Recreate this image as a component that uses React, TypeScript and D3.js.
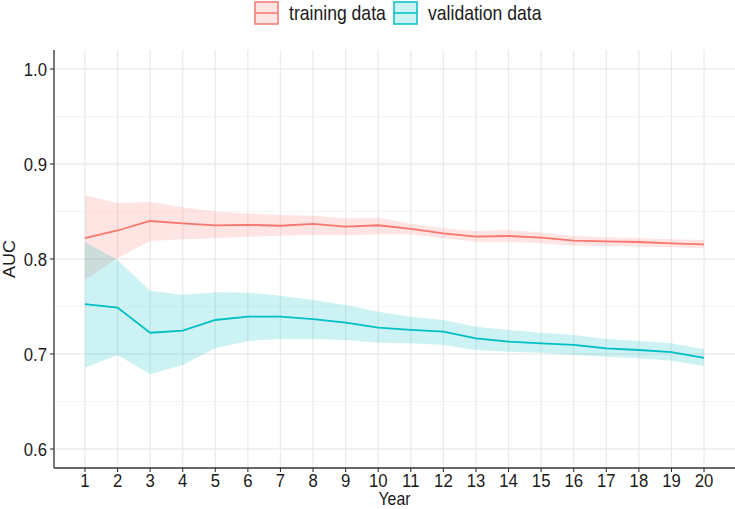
import React from 'react';
import * as d3 from 'd3';

// AUC by follow-up year
const years = [1, 2, 3, 4, 5, 6, 7, 8, 9, 10, 11, 12, 13, 14, 15, 16, 17, 18, 19, 20];

const trainAuc = [0.822, 0.830, 0.840, 0.8376, 0.8355, 0.836, 0.835, 0.837, 0.834, 0.8355, 0.8316, 0.827, 0.8235, 0.8242, 0.8224, 0.8193, 0.8186, 0.8179, 0.8165, 0.8155];
const trainUpper = [0.867, 0.859, 0.860, 0.8544, 0.850, 0.848, 0.8463, 0.8456, 0.843, 0.8435, 0.837, 0.8323, 0.8295, 0.8305, 0.828, 0.8242, 0.8228, 0.8218, 0.8207, 0.820];
const trainLower = [0.778, 0.801, 0.819, 0.8207, 0.8218, 0.8235, 0.8245, 0.8253, 0.825, 0.826, 0.826, 0.8218, 0.8182, 0.8182, 0.8165, 0.814, 0.8137, 0.813, 0.8123, 0.8112];

const valAuc = [0.7526, 0.7488, 0.7224, 0.7246, 0.7358, 0.7393, 0.7393, 0.7368, 0.733, 0.7277, 0.7253, 0.7235, 0.7165, 0.713, 0.7112, 0.7095, 0.706, 0.7042, 0.702, 0.696];
const valUpper = [0.818, 0.799, 0.7667, 0.762, 0.765, 0.7646, 0.7614, 0.7568, 0.7516, 0.7446, 0.7393, 0.7358, 0.7288, 0.7253, 0.7224, 0.720, 0.7158, 0.7137, 0.7112, 0.705];
const valLower = [0.6856, 0.699, 0.6786, 0.6884, 0.706, 0.7137, 0.7158, 0.7158, 0.7147, 0.7119, 0.7112, 0.7095, 0.7042, 0.7025, 0.7014, 0.699, 0.6972, 0.6954, 0.693, 0.6874];

const yTicks = [0.6, 0.7, 0.8, 0.9, 1.0];
const yMinor = [0.65, 0.75, 0.85, 0.95];

const seriesNames = ['training data', 'validation data'];
const seriesColors = ['#F8766D', '#00BFC4'];

const W = 735;
const H = 509;
const FONT = '"Liberation Sans", Arial, sans-serif';
const SX = 0.88; // the picture is squeezed horizontally, so are its glyphs

const Txt: React.FC<{ x: number; y: number; size: number; anchor?: string; rotate?: boolean; children: React.ReactNode }> = ({ x, y, size, anchor = 'start', rotate, children }) => (
  <text
    transform={`translate(${x},${y}) scale(${SX},1)${rotate ? ' rotate(-90)' : ''}`}
    fontSize={size}
    fontFamily={FONT}
    textAnchor={anchor}
    fill="#1a1a1a"
  >
    {children}
  </text>
);

export default function App() {
  const left = 54, right = 735, top = 50, bottom = 468;

  const x = d3.scaleLinear().domain([0.05, 20.95]).range([left, right]);
  const y = d3.scaleLinear().domain([0.58, 1.02]).range([bottom, top]);

  const series = [
    { mid: trainAuc, lo: trainLower, hi: trainUpper },
    { mid: valAuc, lo: valLower, hi: valUpper },
  ];

  const band = (lo: number[], hi: number[]) =>
    d3.area<number>()
      .x((_, i) => x(years[i]))
      .y0(d => y(d))
      .y1((_, i) => y(hi[i]))(lo) || '';

  const line = d3.line<number>()
    .x((_, i) => x(years[i]))
    .y(d => y(d));

  const legendBoxes = [255, 394];
  const legendText = [289, 428];

  return (
    <svg width={W} height={H} style={{ position: 'absolute', left: 0, top: 0, display: 'block', background: '#fff' }}>
      {/* grid */}
      {yMinor.map(v => (
        <line key={'mn' + v} x1={left} x2={right} y1={y(v)} y2={y(v)} stroke="#F2F2F2" strokeWidth={0.8} />
      ))}
      {yTicks.map(v => (
        <line key={'mj' + v} x1={left} x2={right} y1={y(v)} y2={y(v)} stroke="#EBEBEB" strokeWidth={1.3} />
      ))}
      {years.map(v => (
        <line key={'vx' + v} x1={x(v)} x2={x(v)} y1={top} y2={bottom} stroke="#EBEBEB" strokeWidth={1.3} />
      ))}

      {/* ribbons */}
      {series.map((s, i) => (
        <path key={'rb' + i} d={band(s.lo, s.hi)} fill={seriesColors[i]} fillOpacity={0.2} stroke="none" />
      ))}
      {/* lines */}
      {series.map((s, i) => (
        <path key={'ln' + i} d={line(s.mid) || ''} fill="none" stroke={seriesColors[i]} strokeWidth={1.8} />
      ))}

      {/* axes */}
      <line x1={left} x2={left} y1={top} y2={bottom} stroke="#333" strokeWidth={1.3} />
      <line x1={left} x2={right} y1={bottom} y2={bottom} stroke="#333" strokeWidth={1.3} />
      {yTicks.map(v => (
        <g key={'yt' + v}>
          <line x1={left - 4} x2={left} y1={y(v)} y2={y(v)} stroke="#333" strokeWidth={1.1} />
          <Txt x={left - 7} y={y(v) + 7} size={19} anchor="end">{d3.format('.1f')(v)}</Txt>
        </g>
      ))}
      {years.map(v => (
        <g key={'xt' + v}>
          <line x1={x(v)} x2={x(v)} y1={bottom} y2={bottom + 4} stroke="#333" strokeWidth={1.1} />
          <Txt x={x(v)} y={487} size={19} anchor="middle">{v}</Txt>
        </g>
      ))}

      {/* axis titles */}
      <Txt x={(left + right) / 2} y={505} size={18} anchor="middle">Year</Txt>
      <Txt x={15} y={(top + bottom) / 2} size={18} anchor="middle" rotate>AUC</Txt>

      {/* legend */}
      {seriesNames.map((name, i) => (
        <g key={'lg' + i}>
          <rect x={legendBoxes[i]} y={2} width={23} height={22} fill={seriesColors[i]} fillOpacity={0.2} stroke={seriesColors[i]} strokeWidth={1.5} />
          <line x1={legendBoxes[i]} x2={legendBoxes[i] + 23} y1={13} y2={13} stroke={seriesColors[i]} strokeWidth={1.5} />
          <Txt x={legendText[i]} y={20} size={20}>{name}</Txt>
        </g>
      ))}
    </svg>
  );
}
